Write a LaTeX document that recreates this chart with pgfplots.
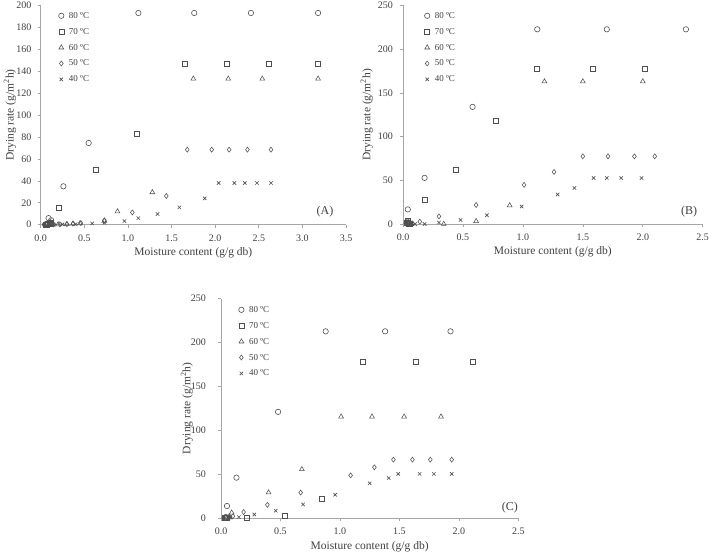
\documentclass[border=0pt]{standalone}
\usepackage{pgfplots}
\pgfplotsset{compat=1.18}
\usepackage{fontspec}
\setmainfont{Liberation Serif}
\definecolor{txt}{HTML}{404040}
\definecolor{mk}{HTML}{505050}
\definecolor{ax}{HTML}{A6A6A6}
\pgfplotsset{
  panel/.style={
    scale only axis,
    axis x line=bottom, axis y line=left,
    axis line style={-, draw=ax, line width=0.8pt},
    tick align=outside, major tick length=3pt,
    tick style={draw=ax, line width=0.6pt},
    xmin=0, ymin=0,
    every tick label/.append style={font=\fontsize{10}{12}\selectfont, text=txt},
    /pgf/number format/assume math mode=true,
    xticklabel style={yshift=-3.5pt, /pgf/number format/fixed, /pgf/number format/fixed zerofill, /pgf/number format/precision=1},
    yticklabel style={/pgf/number format/fixed, /pgf/number format/precision=0},
    xlabel={Moisture content (g/g db)},
    ylabel={Drying rate (g/m\textsuperscript{2}h)},
    label style={font=\fontsize{11.5}{13}\selectfont, text=txt},
    legend cell align=left,
    legend image code/.code={\draw[##1] plot coordinates {(0pt,0pt)};},
    legend style={draw=none, fill=none, inner sep=0pt, outer sep=0pt,
      font=\fontsize{9}{10}\selectfont, text=txt, anchor=north west, row sep=6.9pt,
      nodes={inner sep=0pt, text height=7pt, text depth=2pt},
      /tikz/every odd column/.append style={column sep=5pt}},
    clip=false,
  },
  m80/.style={only marks, mark=o, mark size=2.7pt, mark options={draw=mk, line width=0.6pt}},
  m70/.style={only marks, mark=square, mark size=2.5pt, mark options={draw=mk, line width=0.6pt}},
  m60/.style={only marks, mark=triangle, mark size=2.8pt, mark options={draw=mk, line width=0.55pt}},
  m50/.style={only marks, mark=diamond, mark size=2.5pt, mark options={draw=mk, line width=0.55pt}},
  m40/.style={only marks, mark=x, mark size=2.4pt, mark options={draw=mk, line width=0.65pt}},
}
\begin{document}
\begin{tikzpicture}
\path[use as bounding box] (0,0) rectangle (709pt,554pt);
% Panel A
\begin{axis}[panel, at={(40.7pt,329.3pt)}, anchor=south west, width=305.3pt, height=219.4pt,
  xmax=3.5, ymax=200, xtick={0,0.5,...,3.5}, ytick={0,20,...,200},
  yticklabel style={xshift=-2.7pt},
  xlabel style={at={(axis description cs:0.5,-0.129)}, anchor=center},
  ylabel style={at={(axis description cs:-0.1006,0.5)}, anchor=center},
  legend style={at={(axis description cs:0,1)}, xshift=17.9pt, yshift=-6pt}]
\addplot[m80] coordinates {(3.18,193) (2.41,193) (1.76,193) (1.12,193) (0.55,74.5) (0.26,35) (0.09,6) (0.12,4) (0.10,2) (0.08,1) (0.07,0.5) (0.06,0.3) (0.05,0.1)};
\addplot[m70] coordinates {(3.18,147) (2.62,147) (2.13,147) (1.65,147) (1.10,82.7) (0.63,50) (0.21,15) (0.12,2) (0.10,1) (0.08,0.5) (0.07,0.2) (0.06,0.1)};
\addplot[m60] coordinates {(3.18,133) (2.54,133) (2.15,133) (1.75,133) (1.28,29.5) (0.88,12) (0.73,3.5) (0.45,1.2) (0.37,0.8) (0.30,0.4) (0.20,0.2) (0.12,0.1) (0.09,0.1)};
\addplot[m50] coordinates {(2.64,68.4) (2.37,68.4) (2.16,68.4) (1.96,68.4) (1.68,68.4) (1.44,26.2) (1.05,11.2) (0.73,4) (0.46,1.5) (0.37,1) (0.30,0.5) (0.22,0.3) (0.15,0.2) (0.10,0.1)};
\addplot[m40] coordinates {(2.64,38) (2.48,38) (2.34,38) (2.22,38) (2.04,38) (1.88,24) (1.59,15.8) (1.34,9.7) (1.12,6) (0.96,3.3) (0.73,1.8) (0.59,1.2) (0.40,0.5) (0.25,0.3) (0.15,0.1) (0.10,0)};
\legend{80 ºC, 70 ºC, 60 ºC, 50 ºC, 40 ºC}
\node[font=\fontsize{12}{14}\selectfont, text=txt] at (rel axis cs:0.931,0.059) {(A)};
\end{axis}
% Panel B
\begin{axis}[panel, at={(403pt,329.7pt)}, anchor=south west, width=299.7pt, height=219pt,
  xmax=2.5, ymax=250, xtick={0,0.5,...,2.5}, ytick={0,50,...,250},
  yticklabel style={xshift=-3.7pt},
  xlabel style={at={(axis description cs:0.5,-0.125)}, anchor=center},
  ylabel style={at={(axis description cs:-0.121,0.5)}, anchor=center},
  legend style={at={(axis description cs:0,1)}, xshift=21.5pt, yshift=-6pt}]
\addplot[m80] coordinates {(2.36,222.6) (1.70,222.6) (1.12,222.6) (0.58,134) (0.18,53) (0.04,17) (0.035,3) (0.03,1) (0.04,0.3)};
\addplot[m70] coordinates {(2.02,177.7) (1.58,177.7) (1.12,177.7) (0.77,118.5) (0.44,62) (0.18,27.5) (0.04,4) (0.035,1.5) (0.05,0.5) (0.06,0.2)};
\addplot[m60] coordinates {(2.00,163) (1.50,163) (1.18,163) (0.89,21.5) (0.61,3.5) (0.34,0.3) (0.07,0.5) (0.05,0.2)};
\addplot[m50] coordinates {(2.10,77.6) (1.93,77.6) (1.71,77.6) (1.50,77.6) (1.26,59.8) (1.01,45) (0.61,22) (0.30,9) (0.14,3) (0.08,1) (0.06,0.5)};
\addplot[m40] coordinates {(1.99,52.8) (1.82,52.8) (1.70,52.8) (1.59,52.8) (1.43,41.5) (1.29,34) (0.99,20.3) (0.70,10.3) (0.48,5) (0.30,2) (0.18,0.3) (0.10,0.2)};
\legend{80 ºC, 70 ºC, 60 ºC, 50 ºC, 40 ºC}
\node[font=\fontsize{12}{14}\selectfont, text=txt] at (rel axis cs:0.955,0.059) {(B)};
\end{axis}
% Panel C
\begin{axis}[panel, at={(221pt,36pt)}, anchor=south west, width=297.3pt, height=219.3pt,
  xmax=2.5, ymax=250, xtick={0,0.5,...,2.5}, ytick={0,50,...,250},
  yticklabel style={xshift=-8.5pt},
  xlabel style={at={(axis description cs:0.5,-0.1295)}, anchor=center},
  ylabel style={at={(axis description cs:-0.115,0.5)}, anchor=center},
  legend style={at={(axis description cs:0,1)}, xshift=17.7pt, yshift=-6.6pt}]
\addplot[m80] coordinates {(1.93,212.8) (1.38,212.8) (0.88,212.8) (0.48,121) (0.13,46) (0.05,13.7) (0.04,1) (0.03,0.3)};
\addplot[m70] coordinates {(2.12,177.5) (1.64,177.5) (1.19,177.5) (0.85,22) (0.54,3) (0.22,0.2) (0.05,0.5) (0.04,0.2) (0.03,0.1)};
\addplot[m60] coordinates {(1.85,115.5) (1.54,115.5) (1.27,115.5) (1.01,115.5) (0.68,55.5) (0.40,29) (0.09,6) (0.07,2) (0.05,0.5)};
\addplot[m50] coordinates {(1.94,66.5) (1.76,66.5) (1.61,66.5) (1.45,66.5) (1.29,57.8) (1.09,48.5) (0.67,29) (0.39,15) (0.19,6.8) (0.10,2) (0.07,0.5)};
\addplot[m40] coordinates {(1.94,50.3) (1.79,50.3) (1.67,50.3) (1.49,50.3) (1.41,45.5) (1.25,39.5) (0.96,26.5) (0.69,15.5) (0.46,8.3) (0.28,4) (0.15,1) (0.08,0.3)};
\legend{80 ºC, 70 ºC, 60 ºC, 50 ºC, 40 ºC}
\node[font=\fontsize{12}{14}\selectfont, text=txt] at (rel axis cs:0.972,0.047) {(C)};
\end{axis}
\end{tikzpicture}
\end{document}
